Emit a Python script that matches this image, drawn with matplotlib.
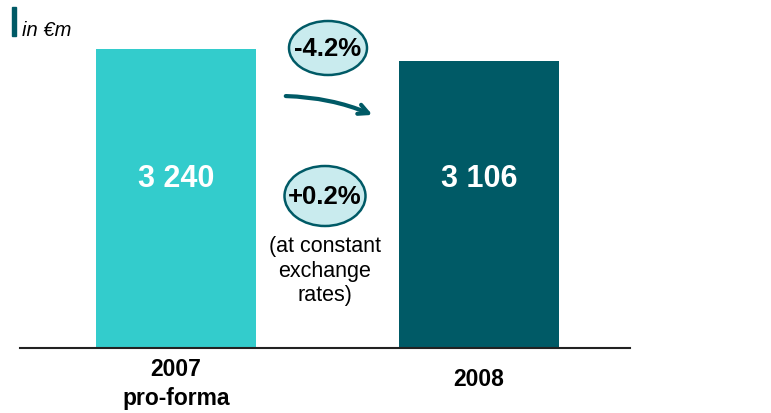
import matplotlib.pyplot as plt
from matplotlib.patches import Ellipse, Rectangle, FancyArrowPatch

plt.rcParams['font.family'] = ['Liberation Sans', 'DejaVu Sans']

# Revenue in EUR millions
categories = ['2007\npro-forma', '2008']
values = [3240, 3106]
value_labels = ['3 240', '3 106']
change_reported = '-4.2%'
change_constant = '+0.2%'
note = '(at constant\nexchange\nrates)'

light = '#33CCCC'
dark = '#005A66'
bubble = '#C9EBEE'

W, H = 771, 414
fig = plt.figure(figsize=(W / 100, H / 100), dpi=100)


def fx(px):
    return px / W


def fy(py):
    return 1 - py / H


ax = fig.add_axes([fx(20), fy(349), fx(630) - fx(20), fy(50) - fy(349)])
x = [0, 1]
ax.bar(x, values, width=0.528, color=[light, dark])
ax.set_xlim(-0.515, 1.498)
ax.set_ylim(0, values[0])

for side in ['top', 'right', 'left']:
    ax.spines[side].set_visible(False)
ax.spines['bottom'].set_color('#222222')
ax.spines['bottom'].set_linewidth(1.5)
ax.set_yticks([])
ax.set_xticks([])

# value labels inside the bars
for xi, lab in zip(x, value_labels):
    ax.text(xi, 0.57, lab, transform=ax.get_xaxis_transform(), ha='center', va='center',
            color='white', fontsize=22, fontweight='bold')

# category labels under the axis
ax.text(x[0], -0.03, categories[0], transform=ax.get_xaxis_transform(), ha='center', va='top',
        fontsize=16.5, fontweight='bold', linespacing=1.35)
ax.text(x[1], -0.065, categories[1], transform=ax.get_xaxis_transform(), ha='center', va='top',
        fontsize=16.5, fontweight='bold')

# unit tag
fig.patches.append(Rectangle((fx(12), fy(37)), fx(4), fy(8) - fy(37), transform=fig.transFigure,
                             color=dark, zorder=3))
fig.text(fx(22), fy(30), 'in €m', fontsize=14.5, style='italic', va='center', ha='left')

# change bubbles
for cx, cy, w, h, lab in [(328, 49, 78, 54, change_reported), (325, 197, 81, 60, change_constant)]:
    fig.patches.append(Ellipse((fx(cx), fy(cy)), fx(w), fy(0) - fy(h), transform=fig.transFigure,
                               facecolor=bubble, edgecolor=dark, linewidth=1.8, zorder=3))
    fig.text(fx(cx), fy(cy), lab, ha='center', va='center', fontsize=18.5, fontweight='bold', zorder=4)

fig.text(fx(325), fy(271), note, ha='center', va='center', fontsize=15.5, linespacing=1.22)

# trend arrow
fig.patches.append(FancyArrowPatch(
    (fx(283), fy(97)), (fx(375), fy(117)), transform=fig.transFigure,
    connectionstyle='arc3,rad=-0.1', arrowstyle='->,head_length=7,head_width=3.5',
    color=dark, linewidth=3, zorder=3))

fig.savefig('out.png', dpi=100)
